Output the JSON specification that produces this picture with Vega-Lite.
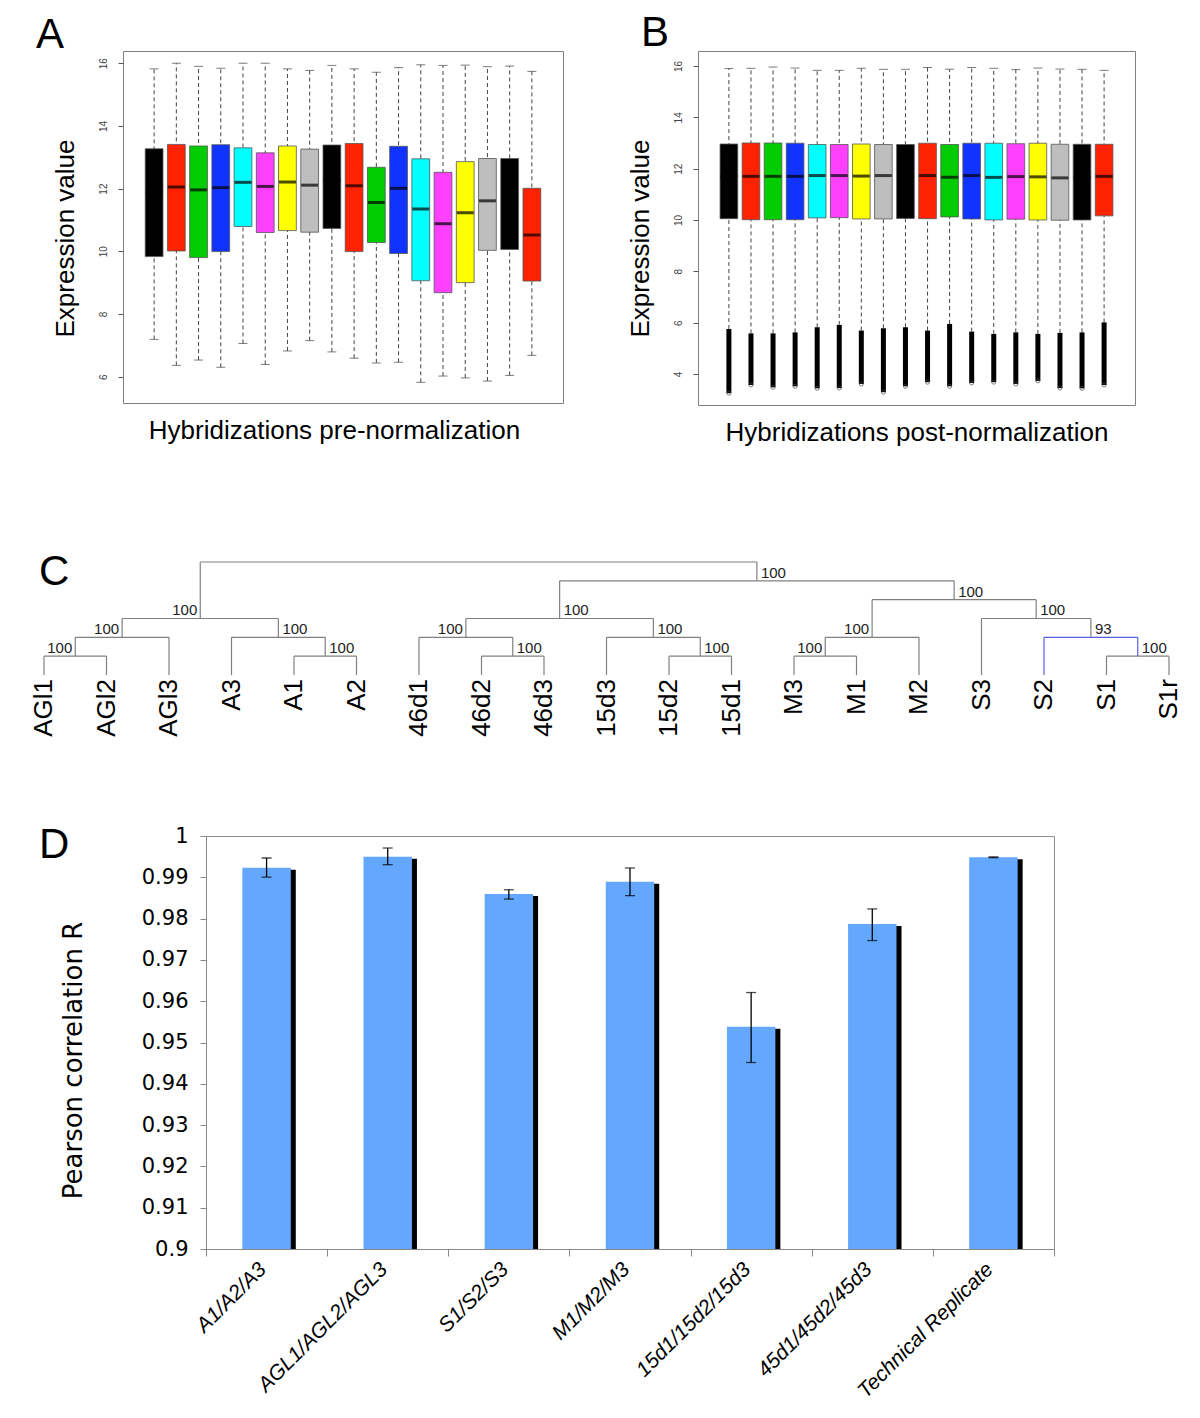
{
  "$schema": "https://vega.github.io/schema/vega-lite/v6.json",
  "padding": {"left": 30, "top": 11, "right": 5, "bottom": 5},
  "background": "white",
  "bounds": "flush",
  "spacing": 0,
  "resolve": {"scale": {"color": "independent"}},
  "config": {
    "font": "Liberation Sans",
    "view": {"stroke": "#808080", "strokeWidth": 1},
    "axis": {"grid": false},
    "title": {"fontSize": 42, "font": "Liberation Sans", "fontWeight": "normal", "anchor": "start", "frame": "group", "baseline": "alphabetic", "offset": 0, "color": "#000000"}
  },
  "datasets": {
    "pre": [
      {"s": 1, "lw": 7.19, "q1": 9.83, "med": 11.88, "q3": 13.27, "uw": 15.82},
      {"s": 2, "lw": 6.36, "q1": 10.01, "med": 12.05, "q3": 13.41, "uw": 16.0},
      {"s": 3, "lw": 6.53, "q1": 9.8, "med": 11.96, "q3": 13.36, "uw": 15.9},
      {"s": 4, "lw": 6.3, "q1": 9.99, "med": 12.03, "q3": 13.4, "uw": 15.84},
      {"s": 5, "lw": 7.06, "q1": 10.79, "med": 12.2, "q3": 13.3, "uw": 16.0},
      {"s": 6, "lw": 6.39, "q1": 10.6, "med": 12.07, "q3": 13.14, "uw": 16.0},
      {"s": 7, "lw": 6.82, "q1": 10.66, "med": 12.21, "q3": 13.36, "uw": 15.82},
      {"s": 8, "lw": 7.15, "q1": 10.61, "med": 12.11, "q3": 13.26, "uw": 15.77},
      {"s": 9, "lw": 6.79, "q1": 10.73, "med": 12.27, "q3": 13.39, "uw": 15.93},
      {"s": 10, "lw": 6.59, "q1": 9.99, "med": 12.09, "q3": 13.44, "uw": 15.82},
      {"s": 11, "lw": 6.44, "q1": 10.28, "med": 11.56, "q3": 12.68, "uw": 15.71},
      {"s": 12, "lw": 6.46, "q1": 9.93, "med": 12.01, "q3": 13.35, "uw": 15.86},
      {"s": 13, "lw": 5.82, "q1": 9.06, "med": 11.35, "q3": 12.95, "uw": 15.95},
      {"s": 14, "lw": 6.02, "q1": 8.68, "med": 10.88, "q3": 12.52, "uw": 15.93},
      {"s": 15, "lw": 5.96, "q1": 9.0, "med": 11.23, "q3": 12.86, "uw": 15.94},
      {"s": 16, "lw": 5.86, "q1": 10.03, "med": 11.61, "q3": 12.96, "uw": 15.89},
      {"s": 17, "lw": 6.04, "q1": 10.06, "med": 11.62, "q3": 12.96, "uw": 15.91},
      {"s": 18, "lw": 6.68, "q1": 9.05, "med": 10.52, "q3": 12.01, "uw": 15.74}
    ],
    "post": [
      {"s": 1, "omin": 3.25, "lw": 5.75, "q1": 10.05, "med": 11.7, "q3": 12.96, "uw": 15.9},
      {"s": 2, "omin": 3.57, "lw": 5.58, "q1": 10.01, "med": 11.7, "q3": 13.0, "uw": 15.91},
      {"s": 3, "omin": 3.48, "lw": 5.58, "q1": 10.01, "med": 11.7, "q3": 13.0, "uw": 15.96},
      {"s": 4, "omin": 3.52, "lw": 5.62, "q1": 10.01, "med": 11.7, "q3": 12.99, "uw": 15.92},
      {"s": 5, "omin": 3.44, "lw": 5.82, "q1": 10.08, "med": 11.73, "q3": 12.94, "uw": 15.83},
      {"s": 6, "omin": 3.45, "lw": 5.91, "q1": 10.09, "med": 11.73, "q3": 12.94, "uw": 15.83},
      {"s": 7, "omin": 3.61, "lw": 5.69, "q1": 10.04, "med": 11.71, "q3": 12.96, "uw": 15.91},
      {"s": 8, "omin": 3.29, "lw": 5.78, "q1": 10.04, "med": 11.73, "q3": 12.94, "uw": 15.87},
      {"s": 9, "omin": 3.52, "lw": 5.82, "q1": 10.06, "med": 11.71, "q3": 12.94, "uw": 15.87},
      {"s": 10, "omin": 3.68, "lw": 5.69, "q1": 10.05, "med": 11.73, "q3": 12.99, "uw": 15.94},
      {"s": 11, "omin": 3.52, "lw": 5.95, "q1": 10.12, "med": 11.66, "q3": 12.94, "uw": 15.87},
      {"s": 12, "omin": 3.65, "lw": 5.65, "q1": 10.04, "med": 11.73, "q3": 12.99, "uw": 15.94},
      {"s": 13, "omin": 3.68, "lw": 5.56, "q1": 10.0, "med": 11.66, "q3": 12.99, "uw": 15.91},
      {"s": 14, "omin": 3.61, "lw": 5.62, "q1": 10.03, "med": 11.69, "q3": 12.97, "uw": 15.86},
      {"s": 15, "omin": 3.73, "lw": 5.56, "q1": 10.0, "med": 11.68, "q3": 12.99, "uw": 15.92},
      {"s": 16, "omin": 3.45, "lw": 5.6, "q1": 9.99, "med": 11.64, "q3": 12.95, "uw": 15.88},
      {"s": 17, "omin": 3.44, "lw": 5.62, "q1": 10.0, "med": 11.65, "q3": 12.95, "uw": 15.87},
      {"s": 18, "omin": 3.57, "lw": 6.01, "q1": 10.16, "med": 11.7, "q3": 12.95, "uw": 15.83}
    ],
    "segments": [
      {"x": 0, "x2": 1, "y": 1, "y2": 1, "clade": "other"},
      {"x": 0.5, "x2": 2, "y": 2, "y2": 2, "clade": "other"},
      {"x": 4, "x2": 5, "y": 1, "y2": 1, "clade": "other"},
      {"x": 3, "x2": 4.5, "y": 2, "y2": 2, "clade": "other"},
      {"x": 1.25, "x2": 3.75, "y": 3, "y2": 3, "clade": "other"},
      {"x": 7, "x2": 8, "y": 1, "y2": 1, "clade": "other"},
      {"x": 6, "x2": 7.5, "y": 2, "y2": 2, "clade": "other"},
      {"x": 10, "x2": 11, "y": 1, "y2": 1, "clade": "other"},
      {"x": 9, "x2": 10.5, "y": 2, "y2": 2, "clade": "other"},
      {"x": 6.75, "x2": 9.75, "y": 3, "y2": 3, "clade": "other"},
      {"x": 12, "x2": 13, "y": 1, "y2": 1, "clade": "other"},
      {"x": 12.5, "x2": 14, "y": 2, "y2": 2, "clade": "other"},
      {"x": 17, "x2": 18, "y": 1, "y2": 1, "clade": "other"},
      {"x": 16, "x2": 17.5, "y": 2, "y2": 2, "clade": "S2-S1-S1r"},
      {"x": 15, "x2": 16.75, "y": 3, "y2": 3, "clade": "other"},
      {"x": 13.25, "x2": 15.875, "y": 4, "y2": 4, "clade": "other"},
      {"x": 8.25, "x2": 14.5625, "y": 5, "y2": 5, "clade": "other"},
      {"x": 2.5, "x2": 11.40625, "y": 6, "y2": 6, "clade": "other"},
      {"x": 0, "x2": 0, "y": 0, "y2": 1, "clade": "other"},
      {"x": 1, "x2": 1, "y": 0, "y2": 1, "clade": "other"},
      {"x": 0.5, "x2": 0.5, "y": 1, "y2": 2, "clade": "other"},
      {"x": 2, "x2": 2, "y": 0, "y2": 2, "clade": "other"},
      {"x": 4, "x2": 4, "y": 0, "y2": 1, "clade": "other"},
      {"x": 5, "x2": 5, "y": 0, "y2": 1, "clade": "other"},
      {"x": 3, "x2": 3, "y": 0, "y2": 2, "clade": "other"},
      {"x": 4.5, "x2": 4.5, "y": 1, "y2": 2, "clade": "other"},
      {"x": 1.25, "x2": 1.25, "y": 2, "y2": 3, "clade": "other"},
      {"x": 3.75, "x2": 3.75, "y": 2, "y2": 3, "clade": "other"},
      {"x": 2.5, "x2": 2.5, "y": 3, "y2": 6, "clade": "other"},
      {"x": 7, "x2": 7, "y": 0, "y2": 1, "clade": "other"},
      {"x": 8, "x2": 8, "y": 0, "y2": 1, "clade": "other"},
      {"x": 6, "x2": 6, "y": 0, "y2": 2, "clade": "other"},
      {"x": 7.5, "x2": 7.5, "y": 1, "y2": 2, "clade": "other"},
      {"x": 10, "x2": 10, "y": 0, "y2": 1, "clade": "other"},
      {"x": 11, "x2": 11, "y": 0, "y2": 1, "clade": "other"},
      {"x": 9, "x2": 9, "y": 0, "y2": 2, "clade": "other"},
      {"x": 10.5, "x2": 10.5, "y": 1, "y2": 2, "clade": "other"},
      {"x": 6.75, "x2": 6.75, "y": 2, "y2": 3, "clade": "other"},
      {"x": 9.75, "x2": 9.75, "y": 2, "y2": 3, "clade": "other"},
      {"x": 8.25, "x2": 8.25, "y": 3, "y2": 5, "clade": "other"},
      {"x": 12, "x2": 12, "y": 0, "y2": 1, "clade": "other"},
      {"x": 13, "x2": 13, "y": 0, "y2": 1, "clade": "other"},
      {"x": 12.5, "x2": 12.5, "y": 1, "y2": 2, "clade": "other"},
      {"x": 14, "x2": 14, "y": 0, "y2": 2, "clade": "other"},
      {"x": 13.25, "x2": 13.25, "y": 2, "y2": 4, "clade": "other"},
      {"x": 17, "x2": 17, "y": 0, "y2": 1, "clade": "other"},
      {"x": 18, "x2": 18, "y": 0, "y2": 1, "clade": "other"},
      {"x": 17.5, "x2": 17.5, "y": 1, "y2": 2, "clade": "S2-S1-S1r"},
      {"x": 16, "x2": 16, "y": 0, "y2": 2, "clade": "S2-S1-S1r"},
      {"x": 16.75, "x2": 16.75, "y": 2, "y2": 3, "clade": "other"},
      {"x": 15, "x2": 15, "y": 0, "y2": 3, "clade": "other"},
      {"x": 15.875, "x2": 15.875, "y": 3, "y2": 4, "clade": "other"},
      {"x": 14.5625, "x2": 14.5625, "y": 4, "y2": 5, "clade": "other"},
      {"x": 11.40625, "x2": 11.40625, "y": 5, "y2": 6, "clade": "other"}
    ],
    "leaves": [
      {"i": 0, "name": "AGl1"}, {"i": 1, "name": "AGl2"}, {"i": 2, "name": "AGl3"},
      {"i": 3, "name": "A3"}, {"i": 4, "name": "A1"}, {"i": 5, "name": "A2"},
      {"i": 6, "name": "46d1"}, {"i": 7, "name": "46d2"}, {"i": 8, "name": "46d3"},
      {"i": 9, "name": "15d3"}, {"i": 10, "name": "15d2"}, {"i": 11, "name": "15d1"},
      {"i": 12, "name": "M3"}, {"i": 13, "name": "M1"}, {"i": 14, "name": "M2"},
      {"i": 15, "name": "S3"}, {"i": 16, "name": "S2"}, {"i": 17, "name": "S1"}, {"i": 18, "name": "S1r"}
    ],
    "supportLeft": [
      {"x": 2.5, "h": 3, "boot": "100"},
      {"x": 1.25, "h": 2, "boot": "100"},
      {"x": 0.5, "h": 1, "boot": "100"},
      {"x": 6.75, "h": 2, "boot": "100"},
      {"x": 13.25, "h": 2, "boot": "100"},
      {"x": 12.5, "h": 1, "boot": "100"}
    ],
    "supportRight": [
      {"x": 3.75, "h": 2, "boot": "100"},
      {"x": 4.5, "h": 1, "boot": "100"},
      {"x": 7.5, "h": 1, "boot": "100"},
      {"x": 8.25, "h": 3, "boot": "100"},
      {"x": 9.75, "h": 2, "boot": "100"},
      {"x": 10.5, "h": 1, "boot": "100"},
      {"x": 11.40625, "h": 5, "boot": "100"},
      {"x": 14.5625, "h": 4, "boot": "100"},
      {"x": 15.875, "h": 3, "boot": "100"},
      {"x": 16.75, "h": 2, "boot": "93"},
      {"x": 17.5, "h": 1, "boot": "100"}
    ],
    "corr": [
      {"group": "A1/A2/A3", "r": 0.99233, "lo": 0.99006, "hi": 0.99467},
      {"group": "AGL1/AGL2/AGL3", "r": 0.99499, "lo": 0.99305, "hi": 0.99709},
      {"group": "S1/S2/S3", "r": 0.98594, "lo": 0.98473, "hi": 0.98699},
      {"group": "M1/M2/M3", "r": 0.98895, "lo": 0.98556, "hi": 0.99226},
      {"group": "15d1/15d2/15d3", "r": 0.95379, "lo": 0.94516, "hi": 0.9621},
      {"group": "45d1/45d2/45d3", "r": 0.97871, "lo": 0.97468, "hi": 0.98234},
      {"group": "Technical Replicate", "r": 0.99484, "lo": 0.99475, "hi": 0.99495}
    ]
  },
  "vconcat": [
    {
      "bounds": "flush",
      "spacing": 135,
      "hconcat": [
        {
          "width": 440,
          "height": 352,
          "data": {"name": "pre"},
          "title": {"text": "A", "dx": -87, "dy": 10},
          "encoding": {
            "x": {"field": "s", "type": "ordinal", "scale": {"paddingInner": 0.2, "paddingOuter": 1.1},
                  "axis": {"labels": false, "ticks": false, "domain": false, "title": "Hybridizations pre-normalization", "titleFontSize": 26, "titleFontWeight": "normal", "titleColor": "#000000", "titlePadding": 14, "titleX": 211}}
          },
          "layer": [
            {"mark": {"type": "rule", "strokeDash": [4, 3], "color": "#444444", "strokeWidth": 1},
             "encoding": {"y": {"field": "lw", "type": "quantitative", "title": "Expression value", "scale": {"domain": [5.16, 16.39], "nice": false, "zero": false},
                                "axis": {"values": [6, 8, 10, 12, 14, 16], "domain": false, "tickSize": 5, "tickColor": "#555555", "labelAngle": -90, "labelAlign": "center", "labelBaseline": "bottom", "labelFontSize": 10, "labelColor": "#444444", "labelPadding": 10, "titleFontSize": 26, "titleFontWeight": "normal", "titleColor": "#000000", "titlePadding": 20, "titleY": 187}},
                          "y2": {"field": "uw"}}},
            {"mark": {"type": "tick", "color": "#444444", "size": 9, "thickness": 1},
             "encoding": {"y": {"field": "lw", "type": "quantitative", "title": "Expression value", "scale": {"domain": [5.16, 16.39], "nice": false, "zero": false}}}},
            {"mark": {"type": "tick", "color": "#444444", "size": 9, "thickness": 1},
             "encoding": {"y": {"field": "uw", "type": "quantitative", "title": "Expression value", "scale": {"domain": [5.16, 16.39], "nice": false, "zero": false}}}},
            {"mark": {"type": "bar", "stroke": "#555555", "strokeWidth": 0.8},
             "encoding": {"y": {"field": "q1", "type": "quantitative", "title": "Expression value", "scale": {"domain": [5.16, 16.39], "nice": false, "zero": false}},
                          "y2": {"field": "q3"},
                          "color": {"field": "s", "type": "ordinal", "legend": null,
                                    "scale": {"domain": [1,2,3,4,5,6,7,8,9,10,11,12,13,14,15,16,17,18],
                                              "range": ["#000000","#FF2200","#00CC00","#1133FF","#00FFFF","#FF40FF","#FFFF00","#BEBEBE","#000000","#FF2200","#00CC00","#1133FF","#00FFFF","#FF40FF","#FFFF00","#BEBEBE","#000000","#FF2200"]}}}},
            {"mark": {"type": "tick", "color": "#000000", "size": 17, "thickness": 3},
             "encoding": {"y": {"field": "med", "type": "quantitative", "title": "Expression value", "scale": {"domain": [5.16, 16.39], "nice": false, "zero": false}}}}
          ]
        },
        {
          "width": 437,
          "height": 354,
          "data": {"name": "post"},
          "title": {"text": "B", "dx": -57, "dy": 8},
          "encoding": {
            "x": {"field": "s", "type": "ordinal", "scale": {"paddingInner": 0.2, "paddingOuter": 1.1},
                  "axis": {"labels": false, "ticks": false, "domain": false, "title": "Hybridizations post-normalization", "titleFontSize": 26, "titleFontWeight": "normal", "titleColor": "#000000", "titlePadding": 14}}
          },
          "layer": [
            {"mark": {"type": "rule", "strokeDash": [4, 3], "color": "#444444", "strokeWidth": 1},
             "encoding": {"y": {"field": "lw", "type": "quantitative", "title": "Expression value", "scale": {"domain": [2.79, 16.584], "nice": false, "zero": false},
                                "axis": {"values": [4, 6, 8, 10, 12, 14, 16], "domain": false, "tickSize": 5, "tickColor": "#555555", "labelAngle": -90, "labelAlign": "center", "labelBaseline": "bottom", "labelFontSize": 10, "labelColor": "#444444", "labelPadding": 10, "titleFontSize": 26, "titleFontWeight": "normal", "titleColor": "#000000", "titlePadding": 20, "titleY": 187}},
                          "y2": {"field": "uw"}}},
            {"mark": {"type": "rule", "color": "#000000", "strokeWidth": 5},
             "encoding": {"y": {"field": "omin", "type": "quantitative", "title": "Expression value", "scale": {"domain": [2.79, 16.584], "nice": false, "zero": false}},
                          "y2": {"field": "lw"}}},
            {"mark": {"type": "tick", "color": "#444444", "size": 9, "thickness": 1},
             "encoding": {"y": {"field": "uw", "type": "quantitative", "title": "Expression value", "scale": {"domain": [2.79, 16.584], "nice": false, "zero": false}}}},
            {"mark": {"type": "bar", "stroke": "#555555", "strokeWidth": 0.8},
             "encoding": {"y": {"field": "q1", "type": "quantitative", "title": "Expression value", "scale": {"domain": [2.79, 16.584], "nice": false, "zero": false}},
                          "y2": {"field": "q3"},
                          "color": {"field": "s", "type": "ordinal", "legend": null,
                                    "scale": {"domain": [1,2,3,4,5,6,7,8,9,10,11,12,13,14,15,16,17,18],
                                              "range": ["#000000","#FF2200","#00CC00","#1133FF","#00FFFF","#FF40FF","#FFFF00","#BEBEBE","#000000","#FF2200","#00CC00","#1133FF","#00FFFF","#FF40FF","#FFFF00","#BEBEBE","#000000","#FF2200"]}}}},
            {"mark": {"type": "tick", "color": "#000000", "size": 17, "thickness": 3},
             "encoding": {"y": {"field": "med", "type": "quantitative", "title": "Expression value", "scale": {"domain": [2.79, 16.584], "nice": false, "zero": false}}}},
            {"mark": {"type": "point", "shape": "circle", "filled": false, "color": "#444444", "size": 16, "strokeWidth": 1},
             "encoding": {"y": {"field": "omin", "type": "quantitative", "title": "Expression value", "scale": {"domain": [2.79, 16.584], "nice": false, "zero": false}}}}
          ]
        }
      ]
    },
    {"width": 1, "height": 511, "data": {"values": [{}]}, "view": {"stroke": null}, "mark": {"type": "text", "text": ""}, "encoding": {}},
    {
      "width": 1046,
      "height": 117,
      "view": {"stroke": null},
      "title": {"text": "C", "dx": -84, "dy": 37},
      "layer": [
        {"data": {"name": "segments"},
         "mark": {"type": "rule", "strokeWidth": 1.2},
         "encoding": {
           "x": {"field": "x", "type": "quantitative", "scale": {"domain": [1.264, 18], "nice": false, "zero": false}, "axis": null},
           "x2": {"field": "x2"},
           "y": {"field": "y", "type": "quantitative", "scale": {"domain": [-0.2124, 6], "nice": false, "zero": false}, "axis": null},
           "y2": {"field": "y2"},
           "color": {"field": "clade", "type": "nominal", "legend": null, "scale": {"domain": ["other", "S2-S1-S1r"], "range": ["#808080", "#5C5CE0"]}}
         }},
        {"data": {"name": "leaves"},
         "mark": {"type": "text", "angle": 270, "align": "right", "baseline": "middle", "dx": -4, "fontSize": 26, "font": "Liberation Sans", "color": "#000000"},
         "encoding": {
           "x": {"field": "i", "type": "quantitative", "scale": {"domain": [1.264, 18], "nice": false, "zero": false}, "axis": null},
           "y": {"datum": 0, "type": "quantitative", "scale": {"domain": [-0.2124, 6], "nice": false, "zero": false}, "axis": null},
           "text": {"field": "name"}
         }},
        {"data": {"name": "supportLeft"},
         "mark": {"type": "text", "align": "right", "baseline": "bottom", "dx": -3, "dy": 0, "fontSize": 15, "font": "Liberation Sans", "color": "#222222"},
         "encoding": {
           "x": {"field": "x", "type": "quantitative", "scale": {"domain": [1.264, 18], "nice": false, "zero": false}, "axis": null},
           "y": {"field": "h", "type": "quantitative", "scale": {"domain": [-0.2124, 6], "nice": false, "zero": false}, "axis": null},
           "text": {"field": "boot"}
         }},
        {"data": {"name": "supportRight"},
         "mark": {"type": "text", "align": "left", "baseline": "bottom", "dx": 4, "dy": 0, "fontSize": 15, "font": "Liberation Sans", "color": "#222222"},
         "encoding": {
           "x": {"field": "x", "type": "quantitative", "scale": {"domain": [1.264, 18], "nice": false, "zero": false}, "axis": null},
           "y": {"field": "h", "type": "quantitative", "scale": {"domain": [-0.2124, 6], "nice": false, "zero": false}, "axis": null},
           "text": {"field": "boot"}
         }}
      ]
    },
    {"width": 1, "height": 157, "data": {"values": [{}]}, "view": {"stroke": null}, "mark": {"type": "text", "text": ""}, "encoding": {}},
    {
      "bounds": "flush",
      "spacing": 0,
      "hconcat": [
        {"width": 83, "height": 413, "data": {"values": [{}]}, "view": {"stroke": null}, "mark": {"type": "text", "text": ""}, "encoding": {}},
        {
          "width": 848,
          "height": 413,
          "data": {"name": "corr"},
          "view": {"stroke": "#909090"},
          "title": {"text": "D", "dx": -167, "dy": 46},
          "encoding": {
            "x": {"field": "group", "type": "nominal", "sort": null, "scale": {"paddingInner": 0, "paddingOuter": 0},
                  "axis": {"title": null, "labelAngle": -45, "labelAlign": "right", "labelBaseline": "middle", "labelFontSize": 21, "labelFontStyle": "italic", "labelFont": "Liberation Sans", "labelColor": "#000000", "labelPadding": 10, "labelOffset": -4, "labelLimit": 400, "tickBand": "extent", "tickSize": 7, "tickColor": "#888888", "domainColor": "#888888", "zindex": 1}}
          },
          "layer": [
            {"mark": {"type": "bar", "color": "#000000", "width": {"band": 0.4}, "xOffset": 5, "yOffset": 2, "clip": true},
             "encoding": {"y": {"field": "r", "type": "quantitative", "title": "Pearson correlation R", "scale": {"domain": [0.9, 1], "nice": false, "zero": false},
                                "axis": {"values": [0.9, 0.91, 0.92, 0.93, 0.94, 0.95, 0.96, 0.97, 0.98, 0.99, 1], "format": ".2~f", "domainColor": "#888888", "tickColor": "#888888", "tickSize": 6, "labelFont": "DejaVu Sans", "labelFontSize": 21, "labelColor": "#000000", "labelPadding": 12, "titleFont": "DejaVu Sans", "titleFontSize": 26, "titleFontWeight": "normal", "titleColor": "#000000", "titlePadding": 55, "titleY": 224, "zindex": 1}},
                          "y2": {"datum": 0.9}}},
            {"mark": {"type": "bar", "color": "#63A8FE", "width": {"band": 0.4}},
             "encoding": {"y": {"field": "r", "type": "quantitative", "title": "Pearson correlation R", "scale": {"domain": [0.9, 1], "nice": false, "zero": false}},
                          "y2": {"datum": 0.9}}},
            {"mark": {"type": "rule", "color": "#000000", "strokeWidth": 1.3},
             "encoding": {"y": {"field": "lo", "type": "quantitative", "title": "Pearson correlation R", "scale": {"domain": [0.9, 1], "nice": false, "zero": false}},
                          "y2": {"field": "hi"}}},
            {"mark": {"type": "tick", "color": "#000000", "size": 10, "thickness": 1.3},
             "encoding": {"y": {"field": "lo", "type": "quantitative", "title": "Pearson correlation R", "scale": {"domain": [0.9, 1], "nice": false, "zero": false}}}},
            {"mark": {"type": "tick", "color": "#000000", "size": 10, "thickness": 1.3},
             "encoding": {"y": {"field": "hi", "type": "quantitative", "title": "Pearson correlation R", "scale": {"domain": [0.9, 1], "nice": false, "zero": false}}}}
          ]
        }
      ]
    }
  ]
}
